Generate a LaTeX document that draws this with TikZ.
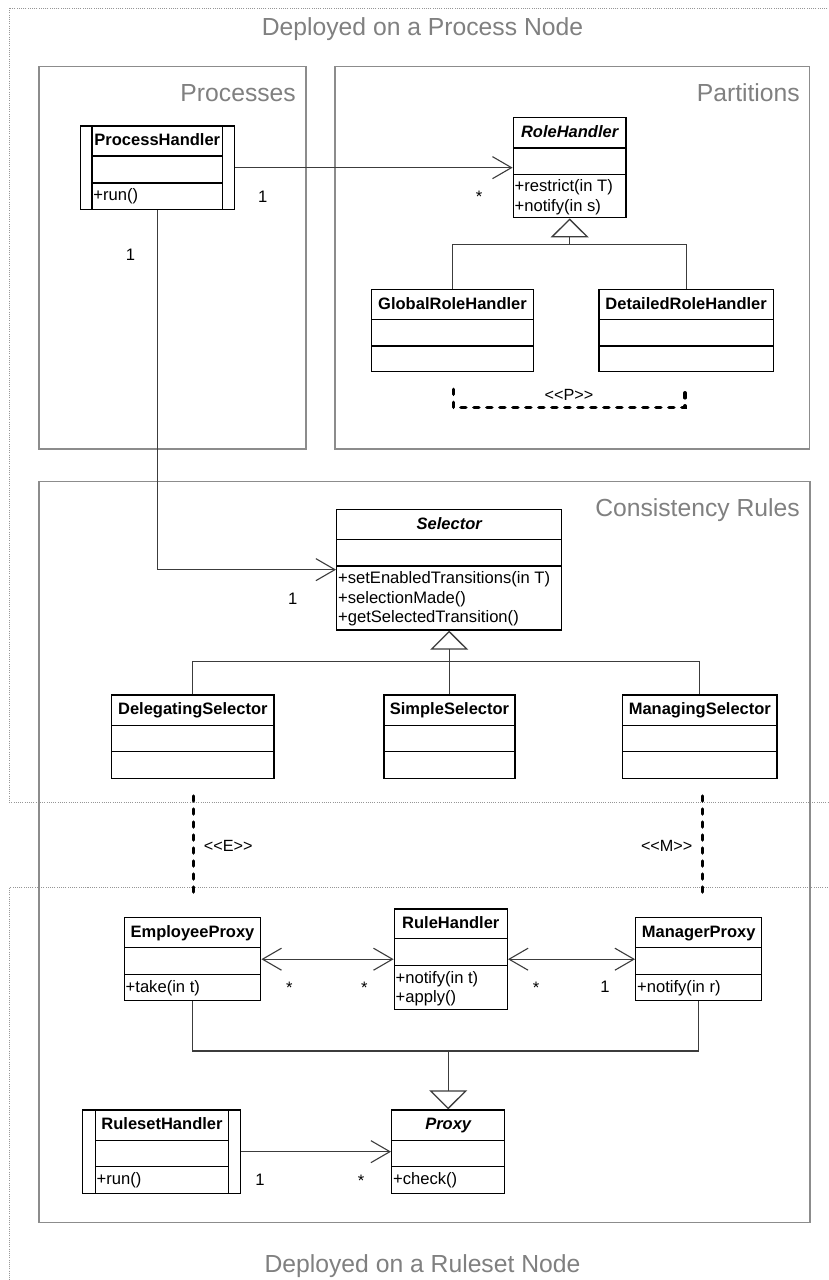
\documentclass[tikz,border=0pt]{standalone}
\usepackage{fontspec}
\setmainfont{Liberation Sans}
\usetikzlibrary{arrows.meta,fit,calc}

\definecolor{regiongray}{RGB}{140,140,140}
\definecolor{titlegray}{RGB}{128,128,128}
\definecolor{dotgray}{RGB}{150,150,150}
\definecolor{linkgray}{RGB}{60,60,60}

\tikzset{
  classbox/.style={draw=black, line width=1.4pt, inner sep=0pt, fill=white},
  classline/.style={draw=black, line width=1.4pt},
  cname/.style={font=\fontsize{16.5}{19.5}\selectfont\bfseries, anchor=base, inner sep=0pt},
  aname/.style={font=\fontsize{16.5}{19.5}\selectfont\bfseries\itshape, anchor=base, inner sep=0pt},
  member/.style={font=\fontsize{16.6}{19.5}\selectfont, anchor=base west, inner sep=0pt},
  mult/.style={font=\fontsize{16.6}{19.5}\selectfont, inner sep=0pt},
  stereo/.style={font=\fontsize{16.2}{19}\selectfont, inner sep=0pt},
  region/.style={draw=regiongray, line width=1.3pt},
  regionlabel/.style={font=\fontsize{24.7}{28}\selectfont, text=titlegray, anchor=base east, inner sep=0pt},
  deploytitle/.style={font=\fontsize{24.7}{28}\selectfont, text=titlegray, anchor=base, inner sep=0pt},
  deploy/.style={draw=dotgray, line width=0.9pt, dash pattern=on 1pt off 1.2pt},
  assoc/.style={draw=linkgray, line width=1.1pt},
  navi/.style={assoc, -{Straight Barb[length=19pt,width=22pt,line width=1.1pt]}},
  navboth/.style={assoc, {Straight Barb[length=19pt,width=22pt,line width=1.1pt]}-{Straight Barb[length=19pt,width=22pt,line width=1.1pt]}},
  gen/.style={draw=linkgray, line width=1.1pt},
  genhead/.style={gen, -{Triangle[open,length=19pt,width=38pt,line width=1.3pt]}},
  bindline/.style={draw=black, line width=3.5pt, dash pattern=on 5pt off 8pt, line cap=round},
}

% plain class: name, x-left, x-right, y-top, y-div1, y-div2, y-bottom
\newcommand{\umlclass}[7]{%
  \node[classbox, fit={(#2,#4) (#3,#7)}] (#1) {};
  \draw[classline] (#2,#5) -- (#3,#5) (#2,#6) -- (#3,#6);
}
% active class with side bars: name, x-left, x-inner-left, x-inner-right, x-right, y-top, y-div1, y-div2, y-bottom
\newcommand{\umlactive}[9]{%
  \node[classbox, fit={(#2,#6) (#5,#9)}] (#1) {};
  \draw[classline] (#3,#6) -- (#3,#9) (#4,#6) -- (#4,#9) (#3,#7) -- (#4,#7) (#3,#8) -- (#4,#8);
}

\begin{document}
\begin{tikzpicture}[x=1pt, y=-1pt]
\useasboundingbox (0,0) rectangle (829,1280);
\fill[white] (0,0) rectangle (829,1280);
\clip (0,0) rectangle (829,1280);

% deployment nodes
\draw[deploy] (9.3,8) rectangle (845,802.3);
\draw[deploy] (9.3,887.7) rectangle (845,1295);
\node[deploytitle] (deptop) at (422.5,35.7) {Deployed on a Process Node};
\node[deploytitle] (depbot) at (422.5,1272.7) {Deployed on a Ruleset Node};

% packages
\draw[region] (39,66.7) rectangle (306,449);
\draw[region] (335,66.7) rectangle (809.3,449);
\draw[region] (39,481.7) rectangle (810,1222.7);
\node[regionlabel] (lproc) at (296,101.7) {Processes};
\node[regionlabel] (lpart) at (800,101.7) {Partitions};
\node[regionlabel] (lcons) at (800,516) {Consistency Rules};

% classes
\umlactive{ph}{80.3}{92}{222.7}{234.3}{126}{156}{183}{209.3}
\node[cname] (ph-n) at (157.3,145.8) {ProcessHandler};
\node[member] (ph-o1) at (93.2,200.3) {+run()};

\umlclass{rh}{513.3}{626}{117.3}{148}{174.3}{217.7}
\node[aname] (rh-n) at (569.65,137.1) {RoleHandler};
\node[member] (rh-o1) at (514.5,191.6) {+restrict(in T)};
\node[member] (rh-o2) at (514.5,211.3) {+notify(in s)};

\umlclass{grh}{371.7}{533.3}{289.3}{319.3}{346}{371.7}
\node[cname] (grh-n) at (452.5,309.1) {GlobalRoleHandler};
\umlclass{drh}{599}{773.3}{289.3}{319.3}{346}{371.7}
\node[cname] (drh-n) at (686.15,309.1) {DetailedRoleHandler};

\umlclass{sel}{336.7}{561.7}{509.3}{539.3}{566}{630}
\node[aname] (sel-n) at (449.2,529.1) {Selector};
\node[member] (sel-o1) at (337.9,583.3) {+setEnabledTransitions(in T)};
\node[member] (sel-o2) at (337.9,603) {+selectionMade()};
\node[member] (sel-o3) at (337.9,622.7) {+getSelectedTransition()};

\umlclass{ds}{111.7}{274}{695}{725.7}{751.7}{778.3}
\node[cname] (ds-n) at (192.85,714.8) {DelegatingSelector};
\umlclass{ss}{384}{515}{695}{725.7}{751.7}{778.3}
\node[cname] (ss-n) at (449.5,714.8) {SimpleSelector};
\umlclass{ms}{622.7}{777}{695}{725.7}{751.7}{778.3}
\node[cname] (ms-n) at (699.85,714.8) {ManagingSelector};

\umlclass{ep}{124.3}{260.7}{917.7}{947.7}{974.7}{1000.7}
\node[cname] (ep-n) at (192.5,937.5) {EmployeeProxy};
\node[member] (ep-o1) at (125.5,992) {+take(in t)};

\umlclass{rule}{394.3}{507.3}{909}{938.7}{965.7}{1009.7}
\node[cname] (rule-n) at (450.8,928.8) {RuleHandler};
\node[member] (rule-o1) at (395.5,983) {+notify(in t)};
\node[member] (rule-o2) at (395.5,1002.7) {+apply()};

\umlclass{mp}{635.7}{761.7}{917.7}{947.7}{974.7}{1000.7}
\node[cname] (mp-n) at (698.7,937.5) {ManagerProxy};
\node[member] (mp-o1) at (636.9,992) {+notify(in r)};

\umlactive{rs}{82.7}{95.3}{228.7}{240.7}{1110}{1140.7}{1166.7}{1193.3}
\node[cname] (rs-n) at (162,1129.8) {RulesetHandler};
\node[member] (rs-o1) at (96.5,1184) {+run()};

\umlclass{px}{391.7}{504.7}{1110}{1140.7}{1166.7}{1193.3}
\node[aname] (px-n) at (448.2,1129.8) {Proxy};
\node[member] (px-o1) at (392.9,1184) {+check()};

% associations
\draw[navi] (ph.east) -- (ph.east -| rh.west);
\draw[navi] (ph.south) |- (sel.west);
\draw[navboth] (ep.east) -- (ep.east -| rule.west);
\draw[navboth] (mp.west -| rule.east) -- (mp.west);
\draw[navi] (rs.east) -- (rs.east -| px.west);

% multiplicities
\node[mult] (m1) at (262.7,196.7) {1};
\node[mult] (m2) at (479,196.8) {*};
\node[mult] (m3) at (130.5,254.5) {1};
\node[mult] (m4) at (292.7,598.3) {1};
\node[mult] (m5) at (289.3,987.5) {*};
\node[mult] (m6) at (364.3,987.5) {*};
\node[mult] (m7) at (536,987.5) {*};
\node[mult] (m8) at (605,987) {1};
\node[mult] (m9) at (260,1180) {1};
\node[mult] (m10) at (361,1180.5) {*};

% generalizations
\coordinate (j1) at ($(rh.south)+(0,26)$);
\draw[gen] (grh.north) |- (j1) -| (drh.north);
\draw[genhead] (j1) -- (rh.south);

\coordinate (j2) at ($(sel.south)+(0,31)$);
\draw[gen] (ds.north) |- (j2) -| (ms.north);
\draw[gen] (ss.north) -- (ss.north |- j2);
\draw[genhead] (j2) -- (sel.south);

\coordinate (j3) at ($(px.north)+(0,-58.3)$);
\draw[gen] (ep.south) |- (j3) -| (mp.south);
\draw[genhead] (j3) -- (px.north);

% stereotyped bindings
\coordinate (p1) at (453.3,389.3);
\coordinate (p2) at (685,389.3);
\draw[bindline] (p1) -- (453.3,407.7) -- (685,407.7) -- (p2);
\node[stereo] (lp) at (569,395) {<\kern0pt<P>\kern0pt>};

\coordinate (e1) at (193.3,796);
\coordinate (e2) at (193.3,896);
\draw[bindline] (e1) -- (e2);
\node[stereo] (le) at (228.3,846) {<\kern0pt<E>\kern0pt>};

\coordinate (mm1) at (702.7,796);
\coordinate (mm2) at (702.7,896);
\draw[bindline] (mm1) -- (mm2);
\node[stereo] (lm) at (666.7,846) {<\kern0pt<M>\kern0pt>};
\end{tikzpicture}
\end{document}
